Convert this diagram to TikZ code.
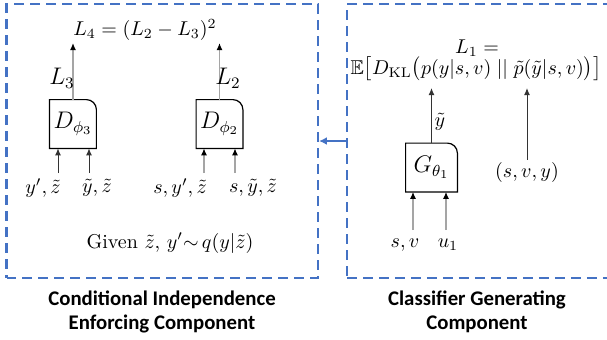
\documentclass[tikz,border=0pt]{standalone}
\usepackage{amsmath,amssymb}
\usepackage{fontspec}
\newfontfamily\headfont{Carlito}
\usetikzlibrary{arrows.meta,calc}
\definecolor{frameclr}{RGB}{68,114,196}
\definecolor{wireclr}{RGB}{165,165,165}

% network block with one rounded corner (top right)
\newcommand{\netbox}[1]{%
  \draw[line width=0.6pt] (#1.south west) -- (#1.north west) -- ([xshift=-5pt]#1.north east)
    arc[start angle=90,end angle=0,radius=5pt] -- (#1.south east) -- cycle;}

\begin{document}
\begin{tikzpicture}[x=0.5pt,y=-0.5pt,
    frame/.style={draw=frameclr, line width=1pt, dash pattern=on 5pt off 3pt},
    net/.style={minimum width=23pt, minimum height=24pt, inner sep=0pt, font=\large},
    lbl/.style={inner sep=1pt},
    wire/.style={-{Latex[length=3.5pt,width=3pt,color=black]}, wireclr, line width=0.6pt},
    darkwire/.style={-{Latex[length=3.5pt,width=3pt]}, black!80, line width=0.5pt},
    head/.style={font=\headfont\bfseries\fontsize{10.4}{12}\selectfont, align=center}]
    \useasboundingbox (0,0) rectangle (607,339);

    % two components
    \node[frame, minimum width=155.75pt, minimum height=137pt] (left) at (162.25,141) {};
    \node[frame, minimum width=134pt, minimum height=137pt] (right) at (481,141) {};
    \draw[-{Latex[length=4pt,width=4pt]}, frameclr, line width=1pt] (right.west) -- (left.east);

    % conditional independence enforcing component
    \node[net] (D3) at (73,124) {$D_{\phi_3}$};
    \node[net] (D2) at (219.5,124) {$D_{\phi_2}$};
    \netbox{D3}
    \netbox{D2}
    \node[inner sep=1pt] (L4) at (145,30) {$L_4 = (L_2 - L_3)^2$};
    \draw[wire] (D3.north) -- (D3.north |- L4.south);
    \draw[wire] (D2.north) -- (D2.north |- L4.south);
    \node[lbl, font=\large] (L3) at (62,78) {$L_3$};
    \node[lbl, font=\large] (L2) at (228,78) {$L_2$};

    \coordinate (a1) at (58,173);
    \coordinate (a2) at (89,173);
    \coordinate (b1) at (204,173);
    \coordinate (b2) at (235,173);
    \draw[darkwire] (a1) -- (a1 |- D3.south);
    \draw[darkwire] (a2) -- (a2 |- D3.south);
    \draw[wire] (b1) -- (b1 |- D2.south);
    \draw[wire] (b2) -- (b2 |- D2.south);
    \node[lbl] (ya) at (43,188) {$y',\tilde{z}$};
    \node[lbl] (yb) at (97,188) {$\tilde{y},\tilde{z}$};
    \node[lbl] (yc) at (180,188) {$s,y',\tilde{z}$};
    \node[lbl] (yd) at (253,188) {$s,\tilde{y},\tilde{z}$};
    \node[lbl] (given) at (170,243) {Given $\tilde{z}$, $y'{\sim}\,q(y|\tilde{z})$};

    % classifier generating component
    \node[net, minimum width=25.5pt] (G1) at (431.5,167.5) {$G_{\theta_1}$};
    \netbox{G1}
    \node[lbl] (L1a) at (477,48) {$L_1 =$};
    \node (L1b) at (476,69) {$\mathbb{E}\big[D_{\mathrm{KL}}\big(p(y|s,v)\;||\;\tilde{p}(\tilde{y}|s,v)\big)\big]$};
    \node[lbl] (svy) at (527,172) {$(s,v,y)$};
    \draw[darkwire] (G1.north) -- (G1.north |- L1b.south);
    \draw[darkwire] (svy.north) -- (svy.north |- L1b.south);
    \node[lbl] (yt) at (440,122) {$\tilde{y}$};

    \coordinate (c1) at (413,230);
    \coordinate (c2) at (446,230);
    \draw[wire] (c1) -- (c1 |- G1.south);
    \draw[wire] (c2) -- (c2 |- G1.south);
    \node[lbl] (sv) at (405,245) {$s,v$};
    \node[lbl] (u1) at (448,245) {$u_1$};

    % captions
    \node[head] (capl) at (162,312) {Conditional Independence\\Enforcing Component};
    \node[head] (capr) at (477,312) {Classifier Generating\\Component};
  \end{tikzpicture}
\end{document}
